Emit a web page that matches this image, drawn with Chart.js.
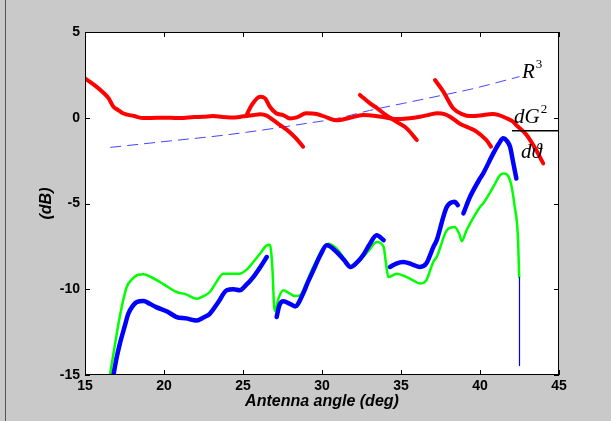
<!DOCTYPE html>
<html>
<head>
<meta charset="utf-8">
<script src="https://cdn.jsdelivr.net/npm/chart.js@4.4.1/dist/chart.umd.min.js"></script>
<style>
  html, body { margin: 0; padding: 0; background: #c9c9c9; }
  canvas { display: block; }
</style>
</head>
<body>
<canvas id="gainChart" width="611" height="421"></canvas>
<script>
// antenna angle (deg) / level (dB) for every trace

// red: first long sweep, drops away after 26 deg
const redAAngle = [15, 15.6, 16.2, 16.5, 16.8, 17.1, 17.4, 18.1, 18.7, 19.6, 20.4, 21.0, 21.9, 22.5, 23.1, 23.7, 24.2, 24.8, 25.2, 25.6, 26.1, 26.5, 26.9, 27.3, 27.8, 28.3, 28.8];
const redAGain = [2.3, 1.9, 1.43, 1.13, 0.64, 0.45, 0.26, 0.1, -0.02, 0.0, 0.0, -0.02, 0.04, 0.06, 0.1, 0.04, 0.02, 0.05, 0.1, 0.15, 0.2, 0.12, -0.13, -0.4, -0.72, -1.15, -1.69];

// red: second sweep with the bump at 26 deg
const redBAngle = [25.2, 25.55, 26.08, 26.4, 26.7, 27.1, 27.55, 27.97, 28.4, 29.0, 29.66, 30.3, 30.93, 31.77, 32.6, 33.3, 34.1, 34.8, 35.4, 36.2, 36.8, 37.3, 37.8, 38.1, 38.7, 39.3, 39.8, 40.4, 40.7];
const redBGain = [0.1, 0.74, 1.23, 1.13, 0.64, 0.26, 0.16, -0.04, 0.02, 0.26, 0.22, 0.02, -0.15, 0.0, 0.16, 0.12, 0.0, -0.08, -0.04, 0.06, 0.18, 0.26, 0.2, 0.06, -0.33, -0.58, -0.82, -1.3, -1.69];

// red: short piece 32-36 deg
const redCAngle = [32.4, 33.04, 33.5, 33.9, 34.7, 35.36, 36.0];
const redCGain = [1.33, 0.84, 0.55, 0.26, -0.23, -0.62, -1.3];

// red: last piece 37-44 deg
const redDAngle = [37.15, 37.68, 38.3, 38.9, 39.4, 40.0, 40.8, 41.2, 41.7, 42.1, 42.3, 42.95, 43.5, 44.0];
const redDGain = [2.2, 1.52, 0.55, 0.2, 0.1, 0.13, 0.22, 0.15, -0.04, -0.23, -0.43, -1.0, -1.8, -2.66];

// blue dashed: R^3 term
const cubeAngle = [16.6, 20.4, 23.3, 25.2, 27.1, 28.8, 30.9, 33.0, 35.15, 37.7, 39.4, 42.5];
const cubeGain = [-1.73, -1.35, -1.07, -0.85, -0.6, -0.36, -0.05, 0.42, 0.84, 1.33, 1.66, 2.4];

// green: model
const greenAngle = [16.58, 16.9, 17.2, 17.64, 18.0, 18.37, 18.7, 19.2, 19.75, 20.3, 20.8, 21.4, 22.07, 22.5, 22.9, 23.3, 23.75, 24.3, 24.8, 25.3, 25.65, 26.1, 26.5, 26.7, 26.85, 27.0, 27.3, 27.55, 27.97, 28.3, 28.6, 29.0, 29.3, 29.66, 30.0, 30.4, 30.93, 31.4, 31.8, 32.2, 32.6, 33.0, 33.46, 33.9, 34.05, 34.2, 34.73, 35.36, 35.8, 36.2, 36.6, 37.05, 37.26, 37.9, 38.4, 38.7, 38.84, 39.15, 39.37, 40.0, 40.2, 40.84, 41.27, 41.47, 41.9, 42.2, 42.4, 42.48];
const greenGain = [-15, -13.2, -11.6, -9.87, -9.4, -9.15, -9.13, -9.3, -9.58, -9.9, -10.16, -10.3, -10.55, -10.4, -10.16, -9.6, -9.09, -9.1, -9.09, -8.8, -8.41, -7.9, -7.44, -7.4, -8.6, -11.25, -10.4, -10.06, -10.26, -10.4, -10.36, -9.67, -9.0, -8.31, -7.7, -7.34, -7.63, -8.2, -8.7, -8.5, -8.12, -7.7, -7.24, -7.53, -8.5, -9.29, -9.09, -9.29, -9.5, -9.67, -9.48, -8.4, -8.12, -6.56, -6.37, -6.8, -7.2, -6.56, -6.17, -5.2, -5.0, -4.03, -3.35, -3.25, -3.64, -5.2, -6.95, -9.29];

// blue: measured, four pieces
const blueAAngle = [16.8, 17.0, 17.2, 17.5, 17.74, 18.0, 18.27, 18.7, 19.1, 19.5, 20.2, 20.8, 21.4, 22.07, 22.5, 22.9, 23.4, 23.97, 24.4, 24.8, 25.2, 25.65, 26.1, 26.5];
const blueAGain = [-15, -14.0, -13.2, -12.2, -11.43, -11.0, -10.75, -10.69, -10.85, -11.04, -11.3, -11.62, -11.7, -11.82, -11.65, -11.43, -10.8, -10.06, -10.0, -10.06, -9.75, -9.29, -8.7, -8.12];
const blueBAngle = [27.13, 27.3, 27.55, 27.97, 28.3, 28.8, 29.1, 29.45, 29.9, 30.3, 30.93, 31.4, 31.8, 32.2, 32.6, 33.0, 33.46, 33.9];
const blueBGain = [-11.62, -10.94, -10.7, -10.85, -11.0, -10.26, -9.6, -8.9, -8.0, -7.44, -7.83, -8.3, -8.7, -8.45, -8.02, -7.4, -6.85, -7.14];
const blueCAngle = [34.3, 34.7, 35.15, 35.7, 36.2, 36.6, 37.05, 37.26, 37.68, 37.9, 38.4, 38.6];
const blueCGain = [-8.7, -8.5, -8.41, -8.55, -8.7, -8.5, -7.53, -7.14, -5.78, -5.2, -4.9, -5.1];
const blueDAngle = [38.95, 39.37, 40.0, 40.2, 40.84, 41.2, 41.47, 41.7, 41.9, 42.1, 42.3];
const blueDGain = [-5.58, -4.61, -3.54, -3.25, -2.08, -1.5, -1.2, -1.35, -1.69, -2.6, -3.54];
const blueTailAngle = [42.5, 42.5];
const blueTailGain = [-9.3, -14.45];

const xTicks = [15, 20, 25, 30, 35, 40, 45];
const yTicks = [-15, -10, -5, 0, 5];

function pts(xs, ys) {
  return xs.map((x, i) => ({ x, y: ys[i] }));
}

function trace(xs, ys, color, width, order, extra) {
  return Object.assign(
    {
      data: pts(xs, ys),
      borderColor: color,
      borderWidth: width,
      pointRadius: 0,
      fill: false,
      cubicInterpolationMode: 'monotone',
      borderCapStyle: 'round',
      borderJoinStyle: 'round',
      order,
    },
    extra || {}
  );
}

// base text with a superscript right after it
function withSup(ctx, base, sup, x, y) {
  ctx.font = 'italic 21px "Liberation Serif", "Times New Roman", serif';
  ctx.fillText(base, x, y);
  const w = ctx.measureText(base).width;
  ctx.font = '13px "Liberation Serif", "Times New Roman", serif';
  ctx.fillText(sup, x + w + 1, y - 10);
}

// gray figure, white axes box, inward ticks on all four sides
const frame = {
  id: 'frame',
  beforeDraw(chart) {
    const { ctx, chartArea: a } = chart;
    ctx.save();
    ctx.fillStyle = '#c9c9c9';
    ctx.fillRect(0, 0, chart.width, chart.height);
    ctx.fillStyle = '#ffffff';
    ctx.fillRect(a.left, a.top, a.right - a.left, a.bottom - a.top);
    ctx.strokeStyle = '#555555';
    ctx.lineWidth = 1;
    ctx.beginPath();
    ctx.moveTo(5.5, 0);
    ctx.lineTo(5.5, chart.height);
    ctx.stroke();
    ctx.restore();
  },
  afterDatasetsDraw(chart) {
    const { ctx, chartArea: a, scales } = chart;
    const t = 5;
    ctx.save();
    ctx.strokeStyle = '#000000';
    ctx.lineWidth = 1;
    ctx.beginPath();
    xTicks.forEach((v) => {
      const px = Math.round(scales.x.getPixelForValue(v)) + 0.5;
      ctx.moveTo(px, a.bottom);
      ctx.lineTo(px, a.bottom - t);
      ctx.moveTo(px, a.top);
      ctx.lineTo(px, a.top + t);
    });
    yTicks.forEach((v) => {
      const py = Math.round(scales.y.getPixelForValue(v)) + 0.5;
      ctx.moveTo(a.left, py);
      ctx.lineTo(a.left + t, py);
      ctx.moveTo(a.right, py);
      ctx.lineTo(a.right - t, py);
    });
    ctx.stroke();
    ctx.strokeRect(a.left + 0.5, a.top + 0.5, a.right - a.left - 1, a.bottom - a.top - 1);
    ctx.restore();
  },
  afterDraw(chart) {
    const { ctx } = chart;
    ctx.save();
    ctx.fillStyle = '#000000';
    ctx.textBaseline = 'alphabetic';
    withSup(ctx, 'R', '3', 522, 78);
    withSup(ctx, 'dG', '2', 514, 123);
    ctx.font = 'italic 21px "Liberation Serif", "Times New Roman", serif';
    ctx.fillText('dϑ', 521, 158);
    ctx.fillRect(512, 130, 47, 1.5);
    ctx.restore();
  },
};

const tickFont = { family: '"Liberation Sans", Arial, sans-serif', size: 14, weight: 'bold' };
const titleFont = { family: '"Liberation Sans", Arial, sans-serif', size: 16, weight: 'bold', style: 'italic' };

new Chart(document.getElementById('gainChart'), {
  type: 'line',
  plugins: [frame],
  data: {
    datasets: [
      trace(redAAngle, redAGain, '#ff0000', 4, 1),
      trace(redBAngle, redBGain, '#ff0000', 4, 1),
      trace(redCAngle, redCGain, '#ff0000', 4, 1),
      trace(redDAngle, redDGain, '#ff0000', 4, 1),
      trace(blueAAngle, blueAGain, '#0000ff', 4.5, 2),
      trace(blueBAngle, blueBGain, '#0000ff', 4.5, 2),
      trace(blueCAngle, blueCGain, '#0000ff', 4.5, 2),
      trace(blueDAngle, blueDGain, '#0000ff', 4.5, 2),
      trace(blueTailAngle, blueTailGain, '#0000ff', 1.2, 2, { tension: 0, cubicInterpolationMode: 'default', borderCapStyle: 'butt' }),
      trace(greenAngle, greenGain, '#00ff00', 2.5, 3),
      trace(cubeAngle, cubeGain, '#4545ff', 1, 4, { borderDash: [11, 6], borderCapStyle: 'butt' }),
    ],
  },
  options: {
    responsive: false,
    devicePixelRatio: 1,
    animation: false,
    layout: { padding: { left: 0, top: 32, right: 52, bottom: 0 } },
    plugins: {
      legend: { display: false },
      tooltip: { enabled: false },
    },
    scales: {
      x: {
        type: 'linear',
        min: 15,
        max: 45,
        afterFit: (scale) => { scale.height = 46; },
        afterBuildTicks: (scale) => { scale.ticks = xTicks.map((v) => ({ value: v })); },
        grid: { display: false, drawTicks: false },
        border: { display: false },
        ticks: { padding: 3, color: '#000000', font: tickFont },
        title: {
          display: true,
          text: 'Antenna angle (deg)',
          color: '#000000',
          font: titleFont,
          padding: { top: 0, bottom: 10 },
        },
      },
      y: {
        min: -15,
        max: 5,
        afterFit: (scale) => { scale.width = 85; },
        afterBuildTicks: (scale) => { scale.ticks = yTicks.map((v) => ({ value: v })); },
        grid: { display: false, drawTicks: false },
        border: { display: false },
        ticks: { padding: 5, color: '#000000', font: tickFont },
        title: {
          display: true,
          text: '(dB)',
          color: '#000000',
          font: titleFont,
          padding: { top: 37, bottom: 0 },
        },
      },
    },
  },
});
</script>
</body>
</html>
